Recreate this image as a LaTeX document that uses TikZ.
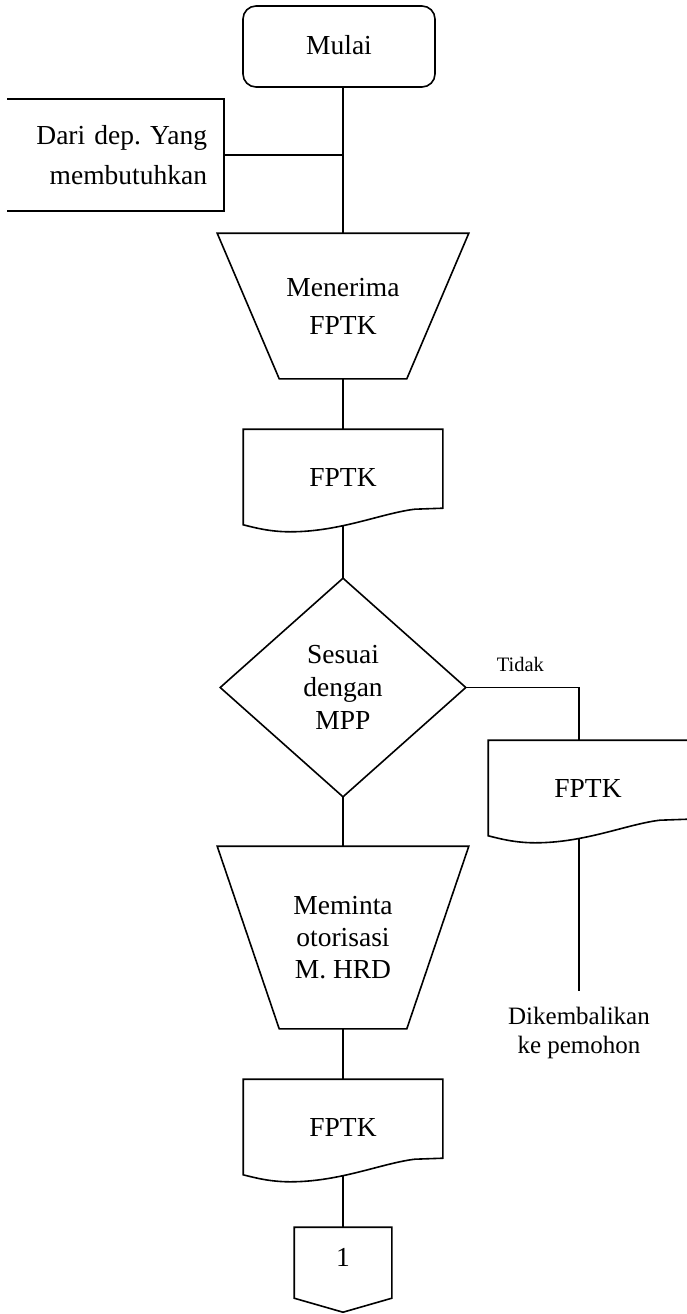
\documentclass[tikz,border=0pt]{standalone}
\usepackage{fontspec}
\setmainfont{Liberation Serif}
\usetikzlibrary{calc}
\frenchspacing

% outline of a flowchart "document" symbol around a named node
\newcommand\fptkdoc[1]{%
  \draw (#1.south west) -- (#1.north west) -- (#1.north east)
    -- ($(#1.north east)+(0,79)$) -- ($(#1.north east)+(-28,80)$)
    .. controls +(-33,4) and +(50,0) .. ($(#1.south west)+(47,7)$)
    .. controls +(-20,0) and +(12,3) .. (#1.south west) -- cycle;}

% outline of a manual-operation trapezoid around a named node
\newcommand\manualop[1]{%
  \draw (#1.north west) -- (#1.north east)
    -- ($(#1.south east)+(-62,0)$) -- ($(#1.south west)+(62,0)$) -- cycle;}

\begin{document}
\begin{tikzpicture}[x=1pt,y=-1pt,line width=1.6pt,
  box/.style={draw=none,inner sep=0pt,align=center,
    font=\fontsize{27.5pt}{37pt}\selectfont},
  lbl/.style={draw=none,inner sep=0pt,align=center}]
\useasboundingbox (0,0) rectangle (686,1314);

% start terminal
\node[box,draw,rounded corners=13pt,minimum width=192pt,minimum height=81pt,
  text depth=3pt] (mulai) at (339,46.5) {Mulai};

% external source
\node[box,minimum width=215pt,minimum height=110pt,text width=183pt,
  inner xsep=16pt,align=right,font=\fontsize{27.5pt}{40pt}\selectfont]
  (dari) at (115.5,155) {Dari dep. Yang\\membutuhkan};
\draw (dari.north west) -- (dari.north east) -- (dari.south east) -- (dari.south west);

% receive request
\node[box,minimum width=250pt,minimum height=144pt,
  font=\fontsize{27.5pt}{38pt}\selectfont] (t1) at (343,306) {Menerima\\FPTK};
\manualop{t1}

\node[box,minimum width=198pt,minimum height=94pt] (d1) at (343,477) {FPTK};
\fptkdoc{d1}

% decision
\node[box,minimum width=244pt,minimum height=217pt,
  font=\fontsize{27.5pt}{33pt}\selectfont] (dia) at (343,687.5) {Sesuai\\dengan\\MPP};
\draw (dia.north) -- (dia.east) -- (dia.south) -- (dia.west) -- cycle;

% rejected branch
\node[box,minimum width=198pt,minimum height=94pt] (d2) at (588,788) {FPTK};
\fptkdoc{d2}
\coordinate (tk) at (579,687.5);
\coordinate (ret) at (579,991);
\node[lbl,anchor=base west,font=\fontsize{20.5pt}{24pt}\selectfont]
  (tidak) at (496,671) {Tidak};
\node[lbl,anchor=north,font=\fontsize{25pt}{29.5pt}\selectfont]
  (kembali) at ($(ret)+(0,15)$) {Dikembalikan\\ke pemohon};

% authorisation
\node[box,minimum width=250pt,minimum height=181pt,
  font=\fontsize{27.5pt}{32pt}\selectfont] (t2) at (343,937.5) {Meminta\\otorisasi\\M. HRD};
\manualop{t2}

\node[box,minimum width=198pt,minimum height=94pt] (d3) at (343,1127) {FPTK};
\fptkdoc{d3}

% off-page connector
\node[box,minimum width=96pt,minimum height=58pt] (conn) at (343,1257) {1};
\draw (conn.north west) -- (conn.north east) -- ($(conn.north east)+(0,71)$)
  -- ($(conn.north)+(0,85)$) -- ($(conn.north west)+(0,71)$) -- cycle;

% connectors
\draw (mulai.south -| t1.north) -- (t1.north);
\draw (dari.east) -- (dari.east -| t1.north);
\draw (t1.south) -- (d1.north);
\draw (d1.south) -- (dia.north);
\draw (dia.east) -- (tk) -- (tk |- d2.north);
\draw ($(tk |- d2.south)+(0,3)$) -- (ret);
\draw (dia.south) -- (t2.north);
\draw (t2.south) -- (d3.north);
\draw (d3.south) -- (conn.north);
\end{tikzpicture}
\end{document}
